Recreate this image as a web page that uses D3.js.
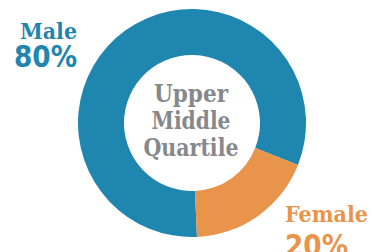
<!DOCTYPE html>
<html><head><meta charset="utf-8">
<script src="https://cdn.jsdelivr.net/npm/d3@7"></script>
<style>html,body{margin:0;padding:0;background:#fff;}</style>
</head><body><svg id="c" width="372" height="252"></svg>
<script>
const categories = ["Male", "Female"];
const shares = [81.7, 18.3];          // arc shares as drawn
const percentLabels = ["80%", "20%"];
const centerLines = ["Upper", "Middle", "Quartile"];
const colors = ["#1f86b0", "#e8944b"];

const svg = d3.select("#c");
const cx = 192, cy = 123, rO = 114, rI = 68;
const start = 177.5 * Math.PI / 180;
const pie = d3.pie().sort(null).startAngle(start).endAngle(start + 2 * Math.PI);
const arc = d3.arc().innerRadius(rI).outerRadius(rO);
const g = svg.append("g").attr("transform", `translate(${cx},${cy})`);
g.selectAll("path").data(pie(shares)).join("path")
  .attr("d", arc).attr("fill", (d, i) => colors[i]);

const font = "'DejaVu Serif', serif";
const centerW = [74, 79, 95];
svg.append("g").selectAll("text").data(centerLines).join("text")
  .attr("x", 191).attr("y", (d, i) => 102 + i * 27)
  .attr("text-anchor", "middle").attr("font-family", font).attr("font-weight", "bold")
  .attr("font-size", 25).attr("fill", "#86888b")
  .attr("textLength", (d, i) => centerW[i]).attr("lengthAdjust", "spacingAndGlyphs")
  .text(d => d);

const lab = [
  {x: 77, anchor: "end", y1: 39, y2: 67, w1: 57, w2: 63},
  {x: 285, anchor: "start", y1: 222, y2: 256, w1: 83, w2: 63}
];
categories.forEach((c, i) => {
  svg.append("text").attr("x", lab[i].x).attr("y", lab[i].y1)
    .attr("text-anchor", lab[i].anchor).attr("font-family", font).attr("font-weight", "bold")
    .attr("font-size", 23).attr("fill", colors[i])
    .attr("textLength", lab[i].w1).attr("lengthAdjust", "spacingAndGlyphs").text(c);
  svg.append("text").attr("x", lab[i].x).attr("y", lab[i].y2)
    .attr("text-anchor", lab[i].anchor).attr("font-family", "'DejaVu Sans', sans-serif").attr("font-weight", "bold")
    .attr("font-size", 31).attr("fill", colors[i])
    .attr("textLength", lab[i].w2).attr("lengthAdjust", "spacingAndGlyphs").text(percentLabels[i]);
});
</script></body></html>
